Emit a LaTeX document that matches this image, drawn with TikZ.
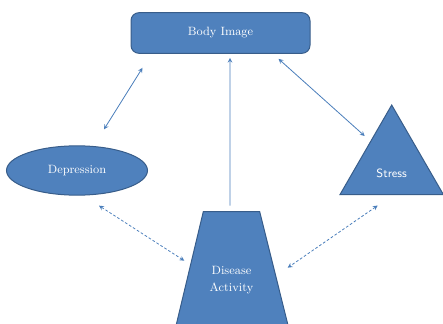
\documentclass[tikz,border=0pt]{standalone}
\usepackage{tikz}
\usetikzlibrary{shapes.geometric, calc}

\begin{document}
\begin{tikzpicture}[x=0.75pt,y=0.75pt,yscale=-1,xscale=1,
    blk/.style={draw={rgb, 255:red, 56; green, 93; blue, 138 }, fill={rgb, 255:red, 79; green, 129; blue, 189 }, line width=0.75pt, text=white, font=\small, inner sep=0.75pt},
    txt/.style={text=white, font=\small, inner sep=0.75pt, align=center},
    link/.style={draw={rgb, 255:red, 74; green, 126; blue, 187 }, line width=0.6pt, >=stealth},
    dotlink/.style={link, dash pattern=on 2pt off 1.5pt}]
        %set diagram size
        \path [use as bounding box] (0,0) rectangle (443,324);
        \clip (0,0) rectangle (443,324);

        %Shape: Rounded Rect [id:body]
        \node [blk, rounded corners=6pt, minimum width=134.25pt, minimum height=30.5pt] (body) at (220.5,33) {Body Image};
        %Shape: Ellipse [id:dep]
        \node [blk, ellipse, minimum width=105.75pt, minimum height=37pt] (dep) at (77,170.5) {Depression};
        %Shape: Triangle [id:stress]
        \node [blk, regular polygon, regular polygon sides=3, minimum size=89.5pt] (stress) at (391.7,164.7) {};
        % Text Node
        \node [txt, font=\small\sffamily] (stresslbl) at ($(stress)+(0,8.5)$) {Stress};
        %Shape: Trapezoid [id:dis]
        \coordinate (distl) at (203.3,211.7);
        \coordinate (distr) at (259.7,211.7);
        \draw [blk] (distl) -- (distr) -- (293.7,348) -- (170.7,348) -- cycle;
        % Text Node
        \node [txt] (dis) at (231.5,280) {Disease\\[2pt]Activity};

        %Straight Lines
        \draw [link, <->] ($(body.south west)+(12,14)$) -- ($(dep.north)+(27,-16)$);
        \draw [link, ->] ($(distl)!0.475!(distr)+(0,-6)$) -- ($(body.south)+(9.5,4)$);
        \draw [link, <->] ($(body.south east)+(-32,5)$) -- ($(stress.corner 1)+(-27,32)$);
        %Dotted Lines
        \draw [dotlink, <->] ($(dep.south)+(22,10)$) -- ($(distl)+(-19,49)$);
        \draw [dotlink, <->] ($(stress.side 2)+(-14,10.5)$) -- ($(distr)+(28,56)$);

\end{tikzpicture}
\end{document}
